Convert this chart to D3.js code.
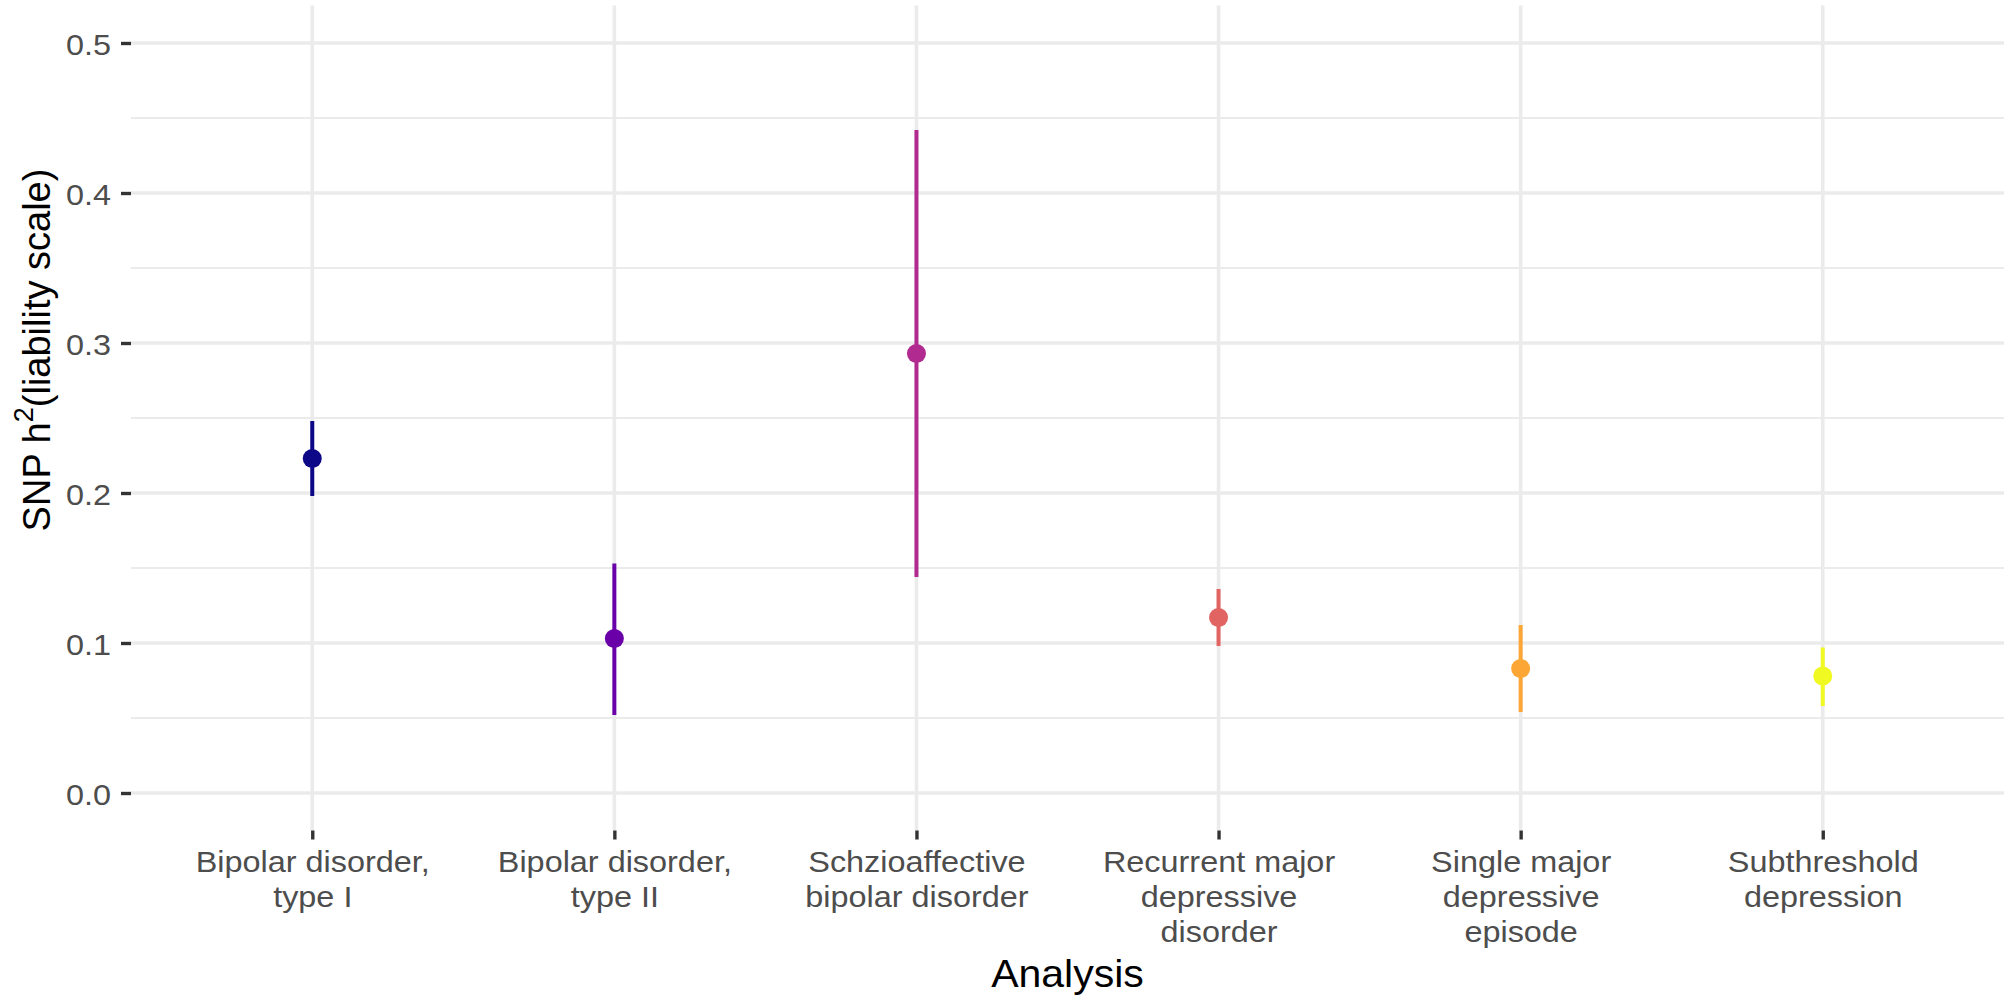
<!DOCTYPE html>
<html>
<head>
<meta charset="utf-8">
<script src="https://cdn.jsdelivr.net/npm/d3@7"></script>
<style>
  html, body { margin: 0; padding: 0; background: #ffffff; }
  svg { display: block; }
  text { font-family: "Liberation Sans", Arial, Helvetica, sans-serif; }
</style>
</head>
<body>
<svg id="chart" width="2010" height="1001"></svg>
<script>
// ---- data ----
const categories = [
  "Bipolar disorder, type I",
  "Bipolar disorder, type II",
  "Schzioaffective bipolar disorder",
  "Recurrent major depressive disorder",
  "Single major depressive episode",
  "Subthreshold depression"
];
const categoryLines = [
  ["Bipolar disorder,", "type I"],
  ["Bipolar disorder,", "type II"],
  ["Schzioaffective", "bipolar disorder"],
  ["Recurrent major", "depressive", "disorder"],
  ["Single major", "depressive", "episode"],
  ["Subthreshold", "depression"]
];
const estimates = [0.223, 0.103, 0.293, 0.117, 0.083, 0.078];
const lower     = [0.198, 0.052, 0.144, 0.098, 0.054, 0.058];
const upper     = [0.248, 0.153, 0.442, 0.136, 0.112, 0.097];
const colors    = ["#0D0887", "#6A00A8", "#B12A90", "#E16462", "#FCA636", "#F0F921"];
const yMajorTicks = [0.0, 0.1, 0.2, 0.3, 0.4, 0.5];
const yMinorTicks = [0.05, 0.15, 0.25, 0.35, 0.45];
const xTitle = "Analysis";

// ---- layout ----
const svg = d3.select("#chart");
const panel = { left: 131, right: 2004, top: 5.5, bottom: 830.5 };
const hStretch = 1.08;

const x = d3.scalePoint()
  .domain(categories)
  .range([panel.left, panel.right])
  .padding(0.6);

const y = d3.scaleLinear()
  .domain([-0.025, 0.525])
  .range([panel.bottom, panel.top]);

const grid = svg.append("g");
grid.selectAll("line.minor").data(yMinorTicks).enter().append("line")
  .attr("x1", panel.left).attr("x2", panel.right)
  .attr("y1", d => y(d)).attr("y2", d => y(d))
  .attr("stroke", "#EBEBEB").attr("stroke-width", 1.8);
grid.selectAll("line.major").data(yMajorTicks).enter().append("line")
  .attr("x1", panel.left).attr("x2", panel.right)
  .attr("y1", d => y(d)).attr("y2", d => y(d))
  .attr("stroke", "#EBEBEB").attr("stroke-width", 3.6);
grid.selectAll("line.vert").data(categories).enter().append("line")
  .attr("x1", d => x(d)).attr("x2", d => x(d))
  .attr("y1", panel.top).attr("y2", panel.bottom)
  .attr("stroke", "#EBEBEB").attr("stroke-width", 3.6);

// ---- axes ----
const yAxis = d3.axisLeft(y)
  .tickValues(yMajorTicks)
  .tickFormat(d3.format(".1f"))
  .tickSize(10)
  .tickPadding(10);
const gy = svg.append("g")
  .attr("transform", `translate(${panel.left},0)`)
  .call(yAxis);
gy.select(".domain").remove();
gy.selectAll(".tick line").attr("stroke", "#333333").attr("stroke-width", 3.4);
gy.selectAll(".tick text")
  .attr("fill", "#4D4D4D")
  .attr("font-size", 30)
  .attr("x", -20 / hStretch)
  .attr("dy", "0.38em")
  .attr("transform", `scale(${hStretch},1)`)
  .style("font-family", '"Liberation Sans", Arial, sans-serif');

const xAxis = d3.axisBottom(x)
  .tickSize(9)
  .tickPadding(0);
const gx = svg.append("g")
  .attr("transform", `translate(0,${panel.bottom})`)
  .call(xAxis);
gx.select(".domain").remove();
gx.selectAll(".tick line").attr("stroke", "#333333").attr("stroke-width", 3.4);
gx.selectAll(".tick text").each(function(d) {
  const t = d3.select(this);
  t.text(null).attr("y", 0).attr("dy", null)
    .attr("fill", "#4D4D4D")
    .attr("font-size", 30)
    .attr("text-anchor", "middle")
    .attr("transform", `scale(${hStretch},1)`)
    .style("font-family", '"Liberation Sans", Arial, sans-serif');
  categoryLines[categories.indexOf(d)].forEach((line, j) => {
    t.append("tspan").attr("x", 0).attr("y", 42 + j * 34.8).text(line);
  });
});

// ---- marks ----
const marks = svg.append("g");
marks.selectAll("line.err").data(categories).enter().append("line")
  .attr("x1", d => x(d)).attr("x2", d => x(d))
  .attr("y1", (d, i) => y(lower[i])).attr("y2", (d, i) => y(upper[i]))
  .attr("stroke", (d, i) => colors[i])
  .attr("stroke-width", 4);
marks.selectAll("circle.pt").data(categories).enter().append("circle")
  .attr("cx", d => x(d))
  .attr("cy", (d, i) => y(estimates[i]))
  .attr("r", 9.5)
  .attr("fill", (d, i) => colors[i]);

// ---- titles ----
svg.append("text")
  .attr("transform", `translate(${(panel.left + panel.right) / 2},987) scale(${hStretch},1)`)
  .attr("text-anchor", "middle")
  .attr("font-size", 38)
  .attr("fill", "#000000")
  .text(xTitle);

const yt = svg.append("text")
  .attr("transform", "translate(50,350) rotate(-90)")
  .attr("text-anchor", "middle")
  .attr("font-size", 38)
  .attr("fill", "#000000");
yt.append("tspan").text("SNP h");
yt.append("tspan").attr("font-size", 27).attr("dy", -17).text("2");
yt.append("tspan").attr("dy", 17).text("(liability scale)");
</script>
</body>
</html>
